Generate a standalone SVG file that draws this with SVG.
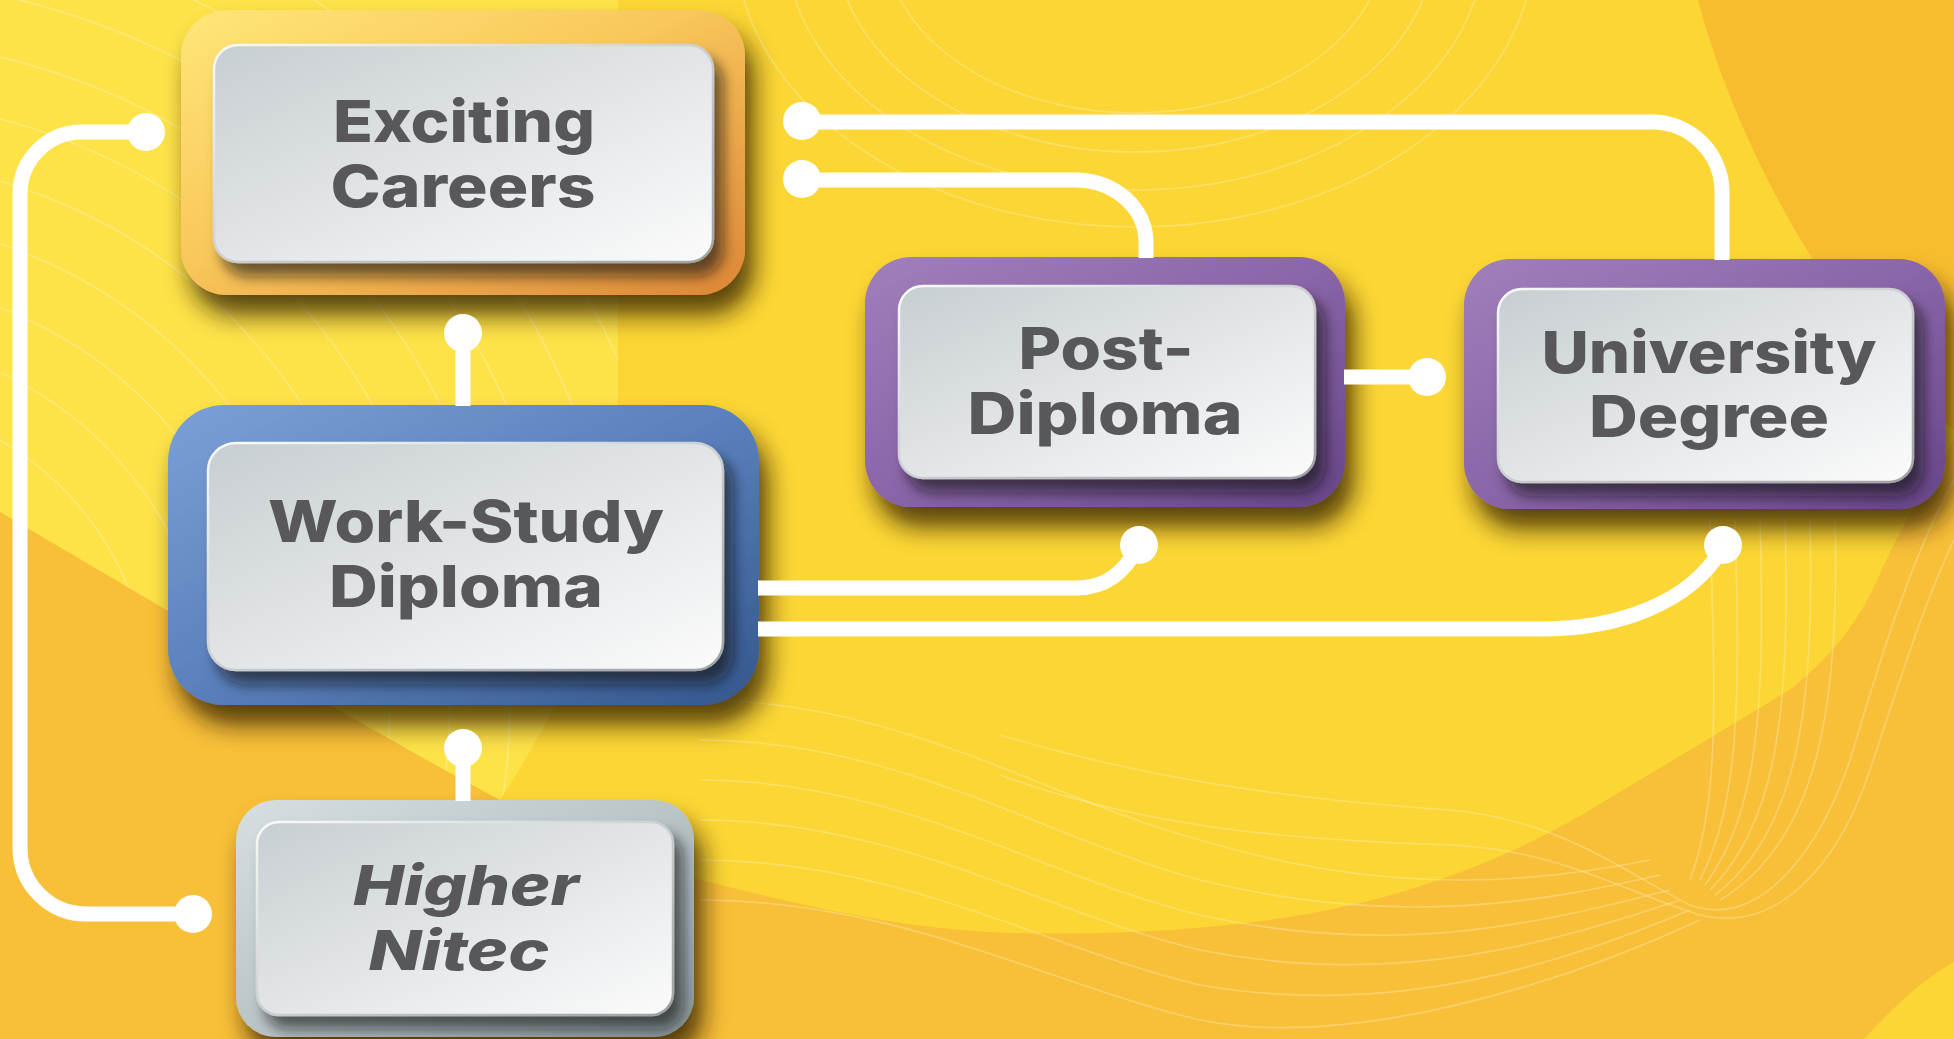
<svg xmlns="http://www.w3.org/2000/svg" width="1954" height="1039" viewBox="0 0 1954 1039">
<defs>
<style>
.lbl{font-family:"Inter","Liberation Sans","DejaVu Sans",sans-serif;font-weight:800;font-size:58px;fill:#58585a;text-anchor:middle;}
.it{font-style:italic;font-size:55px;}
.wire{fill:none;stroke:#ffffff;stroke-width:15;}
.dot{fill:#ffffff;}
.contour{fill:none;stroke:#ffffff;stroke-width:1.6;opacity:0.26;}
.inner{fill:url(#gInner);stroke:url(#gInnerStroke);stroke-width:2.5;filter:url(#innerShadow);}
</style>
<linearGradient id="gOrange" x1="0" y1="0" x2="1" y2="1">
<stop offset="0" stop-color="#ffe678"/><stop offset="0.45" stop-color="#f9c75b"/><stop offset="1" stop-color="#dd8636"/>
</linearGradient>
<linearGradient id="gBlue" x1="0" y1="0" x2="1" y2="1">
<stop offset="0" stop-color="#7ba0d7"/><stop offset="0.5" stop-color="#5a80bc"/><stop offset="1" stop-color="#34578d"/>
</linearGradient>
<linearGradient id="gPurple" x1="0" y1="0" x2="1" y2="1">
<stop offset="0" stop-color="#a07fbb"/><stop offset="0.5" stop-color="#8a65a8"/><stop offset="1" stop-color="#674689"/>
</linearGradient>
<linearGradient id="gGray" x1="0" y1="0" x2="1" y2="1">
<stop offset="0" stop-color="#d6dee0"/><stop offset="0.5" stop-color="#bac5c7"/><stop offset="1" stop-color="#8b9a9c"/>
</linearGradient>
<linearGradient id="gInner" x1="0" y1="0" x2="1" y2="1">
<stop offset="0" stop-color="#c7ced1"/><stop offset="0.5" stop-color="#e2e5e7"/><stop offset="1" stop-color="#fbfbfb"/>
</linearGradient>
<linearGradient id="gInnerStroke" x1="0" y1="0" x2="1" y2="1">
<stop offset="0" stop-color="#fafafa"/><stop offset="1" stop-color="#9ea2a4"/>
</linearGradient>
<filter id="outerShadow" x="-10%" y="-10%" width="130%" height="150%">
<feDropShadow dx="9" dy="20" stdDeviation="12" flood-color="#2a1c00" flood-opacity="0.78"/>
</filter>
<filter id="innerShadow" x="-10%" y="-10%" width="130%" height="140%">
<feDropShadow dx="9" dy="13" stdDeviation="7" flood-color="#151515" flood-opacity="0.62"/>
</filter>
<clipPath id="clipLight">
<path d="M0,0 H618 V470 C612,600 565,700 500,800 C350,720 150,600 0,512 Z"/>
</clipPath>
</defs>

<g id="background">
<rect x="0" y="0" width="1954" height="1039" fill="#fbd634"/>
<path d="M0,0 H618 V470 C612,600 565,700 500,800 C350,720 150,600 0,512 Z" fill="#fde248"/>
<path d="M1698,0 C1730,120 1790,230 1840,300 C1880,360 1920,400 1954,430 V0 Z" fill="#f7bd2f"/>
<path d="M0,512 C150,600 350,720 500,800 C560,835 620,862 694,878 C800,905 900,930 1016,933 C1150,936 1270,925 1365,902 C1460,878 1540,842 1608,799 C1690,750 1740,720 1791,689 C1840,650 1865,610 1882,569 C1910,510 1935,470 1954,440 V1039 H0 Z" fill="#f8c038"/>
<path d="M1864,1039 C1895,1005 1925,978 1954,962 V1039 Z" fill="#fbd634"/>
<g clip-path="url(#clipLight)">
<circle class="contour" cx="-150" cy="700" r="300"/>
<circle class="contour" cx="-150" cy="700" r="360"/>
<circle class="contour" cx="-150" cy="700" r="420"/>
<circle class="contour" cx="-150" cy="700" r="480"/>
<circle class="contour" cx="-150" cy="700" r="540"/>
<circle class="contour" cx="-150" cy="700" r="600"/>
<circle class="contour" cx="-150" cy="700" r="660"/>
<circle class="contour" cx="-150" cy="700" r="720"/>
<circle class="contour" cx="-150" cy="700" r="780"/>
<circle class="contour" cx="-150" cy="700" r="840"/>
</g>
<ellipse class="contour" cx="1135" cy="-60" rx="250" ry="173"/>
<ellipse class="contour" cx="1135" cy="-60" rx="300" ry="212"/>
<ellipse class="contour" cx="1135" cy="-60" rx="350" ry="250"/>
<ellipse class="contour" cx="1135" cy="-60" rx="400" ry="287"/>
<path class="contour" d="M700,700 C900,700 1050,800 1200,840 C1400,900 1550,880 1650,860"/>
<path class="contour" d="M700,740 C900,740 1050,840 1200,880 C1400,930 1550,900 1660,875"/>
<path class="contour" d="M700,780 C900,780 1050,880 1200,915 C1400,960 1550,920 1670,890"/>
<path class="contour" d="M700,820 C900,820 1050,915 1200,950 C1400,990 1560,940 1680,900"/>
<path class="contour" d="M700,860 C900,860 1050,950 1200,985 C1400,1020 1570,960 1690,910"/>
<path class="contour" d="M700,900 C900,900 1050,985 1200,1020 C1350,1050 1560,985 1700,920"/>
<path class="contour" d="M1000,735 C1150,780 1300,800 1450,810 C1560,820 1620,870 1690,905"/>
<path class="contour" d="M1000,775 C1150,830 1300,840 1450,845 C1560,850 1620,890 1700,915"/>
<path class="contour" d="M1690,905 C1760,930 1820,850 1850,760 C1880,660 1910,560 1954,480"/>
<path class="contour" d="M1700,915 C1780,935 1840,860 1870,770 C1900,680 1925,600 1954,540"/>
<path class="contour" d="M1690,880 C1720,800 1715,700 1710,520"/>
<path class="contour" d="M1700,880 C1740,800 1740,700 1735,520"/>
<path class="contour" d="M1705,885 C1760,810 1765,700 1760,520"/>
<path class="contour" d="M1710,890 C1780,820 1790,700 1785,520"/>
<path class="contour" d="M1715,895 C1800,830 1815,700 1810,520"/>
<path class="contour" d="M1720,900 C1820,840 1840,700 1835,520"/>
</g>

<g id="node-exciting-careers">
<rect x="181" y="10" width="564" height="285" rx="46" fill="url(#gOrange)" filter="url(#outerShadow)"/>
<rect class="inner" x="214" y="45" width="499" height="217" rx="24"/>
<text class="lbl" x="464" y="142" textLength="262" lengthAdjust="spacingAndGlyphs">Exciting</text>
<text class="lbl" x="463" y="207" textLength="265" lengthAdjust="spacingAndGlyphs">Careers</text>
</g>

<g id="node-work-study-diploma">
<rect x="168" y="405" width="591" height="300" rx="56" fill="url(#gBlue)" filter="url(#outerShadow)"/>
<rect class="inner" x="208" y="443" width="515" height="227" rx="28"/>
<text class="lbl" x="466" y="542" textLength="396" lengthAdjust="spacingAndGlyphs">Work-Study</text>
<text class="lbl" x="466" y="607" textLength="274" lengthAdjust="spacingAndGlyphs">Diploma</text>
</g>

<g id="node-post-diploma">
<rect x="865" y="257" width="480" height="250" rx="46" fill="url(#gPurple)" filter="url(#outerShadow)"/>
<rect class="inner" x="899" y="286" width="416" height="192" rx="24"/>
<text class="lbl" x="1106" y="369" textLength="175" lengthAdjust="spacingAndGlyphs">Post-</text>
<text class="lbl" x="1105" y="434" textLength="275" lengthAdjust="spacingAndGlyphs">Diploma</text>
</g>

<g id="node-university-degree">
<rect x="1464" y="259" width="481" height="250" rx="46" fill="url(#gPurple)" filter="url(#outerShadow)"/>
<rect class="inner" x="1498" y="289" width="415" height="193" rx="24"/>
<text class="lbl" x="1709" y="373" textLength="335" lengthAdjust="spacingAndGlyphs">University</text>
<text class="lbl" x="1709" y="437" textLength="240" lengthAdjust="spacingAndGlyphs">Degree</text>
</g>

<g id="node-higher-nitec">
<rect x="236" y="800" width="458" height="237" rx="40" fill="url(#gGray)" filter="url(#outerShadow)"/>
<rect class="inner" x="257" y="822" width="416" height="193" rx="22"/>
<text class="lbl it" x="466" y="905" textLength="226" lengthAdjust="spacingAndGlyphs">Higher</text>
<text class="lbl it" x="459" y="970" textLength="181" lengthAdjust="spacingAndGlyphs">Nitec</text>
</g>

<g id="connectors">
<path class="wire" d="M146,132 H82 A62,62 0 0 0 20,194 V848 A66,66 0 0 0 86,914 H193"/>
<circle class="dot" cx="146" cy="132" r="19"/>
<circle class="dot" cx="193" cy="914" r="19"/>
<path class="wire" d="M463,333 V406"/>
<circle class="dot" cx="463" cy="333" r="19"/>
<path class="wire" d="M463,748 V801"/>
<circle class="dot" cx="463" cy="748" r="19"/>
<path class="wire" d="M802,122 H1652 A70,70 0 0 1 1722,192 V260"/>
<circle class="dot" cx="802" cy="121" r="19"/>
<path class="wire" d="M802,180 H1075 A71,62 0 0 1 1146,242 V258"/>
<circle class="dot" cx="802" cy="179" r="19"/>
<path class="wire" d="M1344,377 H1427"/>
<circle class="dot" cx="1427" cy="377" r="19"/>
<path class="wire" d="M758,588 H1076 C1105,588 1125,572 1137,548"/>
<circle class="dot" cx="1139" cy="545" r="19"/>
<path class="wire" d="M758,629 H1541 C1620,629 1690,602 1721,550"/>
<circle class="dot" cx="1723" cy="545" r="19"/>
</g>
</svg>
